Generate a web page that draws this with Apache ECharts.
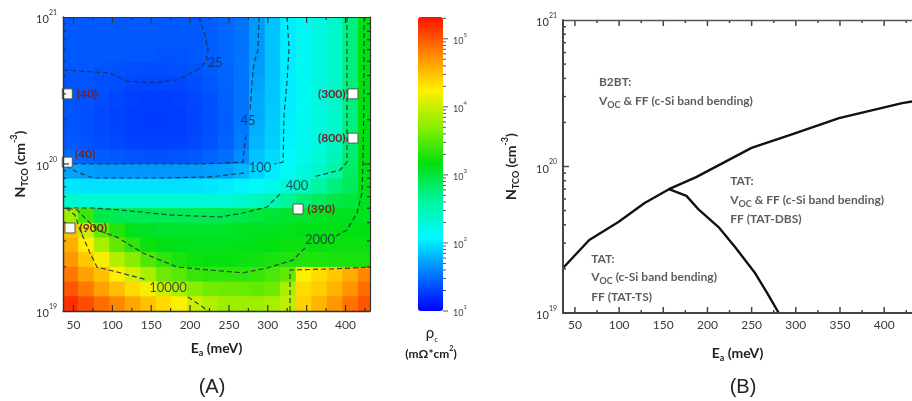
<!DOCTYPE html>
<html><head><meta charset="utf-8">
<script src="https://cdn.jsdelivr.net/npm/echarts@6/dist/echarts.min.js"></script>
<style>html,body{margin:0;padding:0;background:#fff}#c{width:912px;height:401px}</style>
</head><body><div id="c"></div>
<script>
// ---------- Panel A : contact resistivity map ----------
// cell centres: activation energy Ea (meV) and log10 N_TCO (cm^-3), rows listed top -> bottom
const eaCenters = [46,66,86,106,126,146,166,186,206,226,246,266,286,306,326,346,366,386,406,426];
const logNCenters = [20.95,20.85,20.75,20.65,20.55,20.45,20.35,20.25,20.15,20.05,19.95,19.85,19.75,19.65,19.55,19.45,19.35,19.25,19.15,19.05];
// log10 of rho_c (mOhm*cm^2)
const logRhoRows = [
 [1.4,1.4,1.4,1.4,1.4,1.4,1.4,1.4,1.4,1.42,1.46,1.52,1.68,1.85,2.02,2.15,2.25,2.38,2.75,3.15],
 [1.4,1.4,1.4,1.4,1.4,1.4,1.4,1.4,1.4,1.42,1.46,1.52,1.68,1.85,2.02,2.15,2.25,2.38,2.75,3.15],
 [1.4,1.4,1.4,1.4,1.4,1.39,1.38,1.38,1.39,1.42,1.46,1.52,1.68,1.85,2.02,2.15,2.25,2.38,2.75,3.15],
 [1.39,1.39,1.38,1.37,1.36,1.35,1.35,1.36,1.38,1.41,1.45,1.52,1.7,1.85,2.02,2.15,2.25,2.38,2.75,3.15],
 [1.38,1.38,1.36,1.34,1.32,1.31,1.31,1.32,1.35,1.39,1.44,1.52,1.72,1.86,2.02,2.15,2.25,2.38,2.75,3.15],
 [1.38,1.37,1.34,1.31,1.29,1.28,1.28,1.29,1.32,1.37,1.43,1.52,1.74,1.87,2.03,2.15,2.25,2.38,2.75,3.15],
 [1.38,1.36,1.33,1.3,1.28,1.27,1.27,1.28,1.31,1.36,1.42,1.52,1.75,1.88,2.03,2.15,2.25,2.38,2.75,3.15],
 [1.38,1.36,1.33,1.3,1.28,1.27,1.27,1.28,1.31,1.36,1.42,1.54,1.77,1.89,2.04,2.16,2.26,2.4,2.75,3.15],
 [1.4,1.38,1.35,1.32,1.3,1.29,1.29,1.3,1.33,1.38,1.44,1.56,1.8,1.9,2.05,2.17,2.28,2.42,2.77,3.15],
 [1.48,1.45,1.42,1.4,1.38,1.37,1.37,1.38,1.4,1.44,1.5,1.62,1.85,1.95,2.08,2.2,2.32,2.48,2.8,3.15],
 [1.72,1.7,1.68,1.67,1.67,1.67,1.67,1.67,1.68,1.7,1.72,1.8,1.92,2.02,2.12,2.25,2.4,2.6,2.85,3.15],
 [2.0,1.98,1.97,1.97,1.97,1.97,1.97,1.97,1.98,2.0,2.02,2.06,2.12,2.2,2.3,2.45,2.62,2.75,2.88,3.15],
 [2.35,2.32,2.3,2.3,2.3,2.3,2.3,2.3,2.3,2.3,2.32,2.38,2.45,2.55,2.65,2.78,2.88,2.95,3.0,3.1],
 [3.8,3.4,2.95,2.9,2.9,2.9,2.9,2.9,2.9,2.9,2.92,2.95,3.0,3.02,3.05,3.05,3.08,3.1,3.1,3.12],
 [4.5,4.0,3.55,3.3,3.12,3.08,3.05,3.05,3.05,3.05,3.06,3.08,3.1,3.1,3.12,3.14,3.15,3.15,3.15,3.16],
 [4.58,4.25,3.85,3.55,3.35,3.2,3.15,3.13,3.12,3.12,3.12,3.13,3.15,3.18,3.2,3.2,3.2,3.2,3.2,3.2],
 [4.7,4.45,4.2,3.9,3.7,3.48,3.35,3.25,3.2,3.18,3.18,3.2,3.22,3.25,3.28,3.28,3.28,3.26,3.25,3.25],
 [4.85,4.65,4.5,4.25,4.05,3.85,3.6,3.5,3.38,3.35,3.35,3.35,3.38,3.45,3.55,4.22,4.35,4.45,4.6,4.78],
 [5.0,4.85,4.65,4.5,4.35,4.2,4.0,3.85,3.7,3.62,3.6,3.58,3.55,3.6,3.85,4.35,4.42,4.55,4.72,4.9],
 [5.18,5.05,4.9,4.78,4.62,4.48,4.35,4.22,4.0,3.88,3.8,3.8,3.8,3.85,3.95,4.4,4.55,4.7,4.88,5.02]
];
// iso-resistivity contours: segments of [Ea, N_TCO]
const contour25 = [[[36.5,4.36e20],[97,4.16e20],[118.8,3.67e20],[152.3,3.56e20],[183.2,3.73e20],[208.9,4.36e20],[220.5,4.94e20],[223.1,5.97e20],[219.2,7.55e20],[211.5,1e21]]];
const contour45 = [[[288.7,1e21],[287.4,5.97e20],[282.3,4.86e20],[279.7,3.61e20],[277.1,2.26e20]],
                   [[272.0,1.57e20],[269.4,1.245e20],[268.1,1.03e20],[212.8,1e20],[109.8,1e20],[40.4,1e20]]];
const contour100 = [[[324.7,1e21],[327.3,6.15e20],[324.7,3.61e20],[320.9,2.15e20],[319.6,1.03e20],[308,1e20]],
                    [[269.4,8.69e19],[225.6,8.17e19],[161.3,8.03e19],[75.1,8.03e19],[54.5,8.83e19],[40.4,9.68e19]]];
const contour400 = [[[401.9,1e21],[401.9,3.61e20],[401.9,1.03e20],[392.9,9.1e19],[358.2,8.17e19]],
                    [[315.7,6.25e19],[299,5.1e19],[268.1,4.64e19],[238.5,4.36e19],[174.2,4.5e19],[109.8,4.87e19],[75.1,5.02e19],[40.4,5.02e19]]];
const contour2000 = [[[423.8,1e21],[423.8,2.72e20],[422.5,1.064e20],[421.2,6.35e19],[414.8,4.64e19],[401.9,3.56e19],[387.8,3.24e19]],
                     [[347.9,2.69e19],[332.4,2.22e19],[299,1.96e19],[268.1,1.82e19],[225.6,1.9e19],[183.2,1.99e19],[139.4,2.48e19],[106,3.18e19],[80.2,3.56e19],[67.4,4.16e19],[54.5,4.87e19],[40.4,5.02e19]]];
const contour10000 = [[[40.4,5.02e19],[51.9,4.5e19],[58.4,3.56e19],[71.2,2.48e19],[80.2,1.99e19],[109.8,1.82e19],[144.6,1.63e19]],
                      [[197.3,1.245e19],[216.6,1.06e19],[223.1,1e19]],
                      [[328.6,1e19],[328.6,1.9e19],[380,1.93e19],[431.5,1.99e19]]];
const contourLabelText = ['25','45','100','400','2000','10000'];
const contourLabelEa = [232,274.5,290,337.6,367.2,171.6];
const contourLabelN = [4.86e20,1.96e20,9.4e19,7.08e19,3.04e19,1.43e19];
// measured samples (white squares) and their rho_c
const sampleEa = [42,42,45.5,409.6,409.6,338.9];
const sampleN = [3e20,1.03e20,3.67e19,3e20,1.5e20,4.94e19];
const sampleText = ['(40)','(40)','(900)','(300)','(800)','(390)'];

// ---------- Panel B : dominant transport mechanism ----------
const boundaryEa = [36.5,66.2,99.2,128.9,156.4,187.2,249.9,297.2,348.9,420.4,431.5];
const boundaryN = [2.03e19,3.15e19,4.18e19,5.64e19,7.0e19,8.47e19,1.34e20,1.67e20,2.14e20,2.71e20,2.78e20];
const splitEa = [156.4,176.2,190.5,212.5,231.2,253.2,267.5,280.7];
const splitN = [7.0e19,6.3e19,5.05e19,3.86e19,2.82e19,1.9e19,1.37e19,1e19];
const regionText = ['B2BT:','V_OC & FF (c-Si band bending)','TAT:','V_OC & FF (c-Si band bending)','FF (TAT-DBS)','TAT:','V_OC (c-Si band bending)','FF (TAT-TS)'];
const regionEa = [77.2,77.2,225.7,225.7,225.7,68.4,68.4,68.4];
const regionN = [3.78e20,2.8e20,7.96e19,5.9e19,4.39e19,2.34e19,1.76e19,1.28e19];

// ---------- axes ticks ----------
const eaMajorTicks = [50,100,150,200,250,300,350,400];
const eaMinorTicks = [75,125,175,225,275,325,375,425];
const nMajorTicks = [1e20];
const nMinorTicks = [2e19,3e19,4e19,5e19,6e19,7e19,8e19,9e19,2e20,3e20,4e20,5e20,6e20,7e20,8e20,9e20];
const rhoMajorTicks = [10,100,1000,10000,100000];
const rhoMinorTicks = [20,30,40,50,60,70,80,90,200,300,400,500,600,700,800,900,2000,3000,4000,5000,6000,7000,8000,9000,20000,30000,40000,50000,60000,70000,80000,90000,200000];

const EA_MIN = 36.5, EA_MAX = 431.5, N_MIN = 1e19, N_MAX = 1e21;
const RHO_LOG_MIN = 1, RHO_LOG_MAX = 5.32;
const jet = ['#0000ff','#0078ff','#00faff','#00f5a0','#00e010','#88ee00','#fff000','#ff8800','#ff1000'];
const F = 'Lato, "Open Sans", sans-serif';

const heatData = [];
logRhoRows.forEach((row, r) => row.forEach((v, c) => heatData.push([eaCenters[c], Math.pow(10, logNCenters[r]), v])));
const halfEa = (eaCenters[1] - eaCenters[0]) / 2;
const halfLogN = Math.abs(logNCenters[0] - logNCenters[1]) / 2;

function renderCell(params, api) {
  const ea = api.value(0), ln = Math.log10(api.value(1));
  const p1 = api.coord([ea - halfEa, Math.pow(10, ln + halfLogN)]);
  const p2 = api.coord([ea + halfEa, Math.pow(10, ln - halfLogN)]);
  const cs = params.coordSys;
  const r = echarts.graphic.clipRectByRect(
    {x: p1[0], y: p1[1], width: p2[0] - p1[0] + 0.7, height: p2[1] - p1[1] + 0.7},
    {x: cs.x, y: cs.y, width: cs.width, height: cs.height});
  if (!r) return null;
  return {type: 'rect', shape: r, style: {fill: api.visual('color')}};
}

function tickSeries(xi, yi, pts, dx, dy, len, color, w) {
  return {type: 'custom', xAxisIndex: xi, yAxisIndex: yi, silent: true, clip: false, z: 8,
    data: pts, encode: {x: 0, y: 1},
    renderItem: (params, api) => {
      const p = api.coord([api.value(0), api.value(1)]);
      return {type: 'line', shape: {x1: p[0], y1: p[1], x2: p[0] + dx * len, y2: p[1] + dy * len},
              style: {stroke: color || '#333', lineWidth: w || 1.2}};
    }};
}

function powLabel(v) {
  const e = Math.log10(v);
  if (Math.abs(e - Math.round(e)) > 1e-6) return '';
  return '{b|10}{s|' + Math.round(e) + '}';
}
const powRich = {b: {fontSize: 11, fontFamily: F, color: '#333', lineHeight: 16, verticalAlign: 'bottom'},
                 s: {fontSize: 7, fontFamily: F, color: '#333', lineHeight: 9, verticalAlign: 'top'}};
const cbRich = {b: {fontSize: 9, fontFamily: F, color: '#444', lineHeight: 13, verticalAlign: 'bottom'},
                s: {fontSize: 6, fontFamily: F, color: '#444', lineHeight: 7, verticalAlign: 'top'}};
const nameRich = {n: {fontSize: 14, fontFamily: F, fontWeight: 'bold', color: '#222', lineHeight: 20, verticalAlign: 'middle'},
                  sub: {fontSize: 9, fontFamily: F, fontWeight: 'bold', color: '#222', lineHeight: 10, verticalAlign: 'bottom'},
                  sup: {fontSize: 9, fontFamily: F, fontWeight: 'bold', color: '#222', lineHeight: 10, verticalAlign: 'top'}};
const eaName = '{n|E}{sub|a}{n| (meV)}';
const nName = '{n|N}{sub|TCO}{n| (cm}{sup|-3}{n|)}';

function eaLabelFmt(v) { return (Math.abs(v % 50) < 1e-6) ? String(v) : ''; }
const eaLabel = {show: true, formatter: eaLabelFmt, fontFamily: F, fontSize: 12, color: '#3a3a3a', showMinLabel: false, showMaxLabel: false};

const series = [];
// 0: heat map
series.push({type: 'custom', name: 'rho', xAxisIndex: 0, yAxisIndex: 0, data: heatData, encode: {x: 0, y: 1},
  renderItem: renderCell, silent: true, z: 1, clip: true});
// contours
[contour25, contour45, contour100, contour400, contour2000, contour10000].forEach(segs => segs.forEach(seg => {
  series.push({type: 'line', xAxisIndex: 0, yAxisIndex: 0, data: seg, symbol: 'none', silent: true, z: 3,
    lineStyle: {color: '#24303c', width: 1.2, type: [5, 3], opacity: 0.9}});
}));
// contour labels
series.push({type: 'scatter', xAxisIndex: 0, yAxisIndex: 0, symbolSize: 0, silent: true, z: 4,
  data: contourLabelText.map((t, i) => ({name: t, value: [contourLabelEa[i], contourLabelN[i]]})),
  label: {show: true, position: 'inside', formatter: p => p.name, fontFamily: F, fontSize: 13, color: '#1c2840'}});
// samples
const sampleLabelSide = ['right', 'topright', 'right', 'left', 'left', 'right'];
series.push({type: 'scatter', xAxisIndex: 0, yAxisIndex: 0, symbol: 'rect', symbolSize: 10, silent: true, z: 5,
  itemStyle: {color: '#ffffff', borderColor: '#555', borderWidth: 1, opacity: 1},
  data: sampleText.map((t, i) => {
    const side = sampleLabelSide[i];
    const lab = side === 'topright' ? {position: 'right', distance: 2, offset: [0, -8]} :
                {position: side, distance: side === 'left' ? 2 : 4};
    return {name: t, value: [sampleEa[i], sampleN[i]], label: lab};
  }),
  label: {show: true, formatter: p => p.name, fontFamily: F, fontSize: 12, fontWeight: 'bold', color: '#7a1f1f'}});
// ticks panel A
series.push(tickSeries(0, 0, eaMajorTicks.map(v => [v, N_MIN]), 0, -1, 6));
series.push(tickSeries(0, 0, eaMinorTicks.map(v => [v, N_MIN]), 0, -1, 3));
series.push(tickSeries(0, 0, eaMajorTicks.map(v => [v, N_MAX]), 0, 1, 6));
series.push(tickSeries(0, 0, eaMinorTicks.map(v => [v, N_MAX]), 0, 1, 3));
series.push(tickSeries(0, 0, nMajorTicks.map(v => [EA_MIN, v]), 1, 0, 6));
series.push(tickSeries(0, 0, nMinorTicks.map(v => [EA_MIN, v]), 1, 0, 3));
series.push(tickSeries(0, 0, nMajorTicks.map(v => [EA_MAX, v]), -1, 0, 6));
series.push(tickSeries(0, 0, nMinorTicks.map(v => [EA_MAX, v]), -1, 0, 3));
// panel B lines
series.push({type: 'line', xAxisIndex: 2, yAxisIndex: 2, data: boundaryEa.map((x, i) => [x, boundaryN[i]]), symbol: 'none', silent: true, z: 3,
  lineStyle: {color: '#111', width: 2.4}});
series.push({type: 'line', xAxisIndex: 2, yAxisIndex: 2, data: splitEa.map((x, i) => [x, splitN[i]]), symbol: 'none', silent: true, z: 3,
  lineStyle: {color: '#111', width: 2.4}});
series.push({type: 'scatter', xAxisIndex: 2, yAxisIndex: 2, symbolSize: 0, silent: true, z: 4,
  data: regionText.map((t, i) => ({name: t, value: [regionEa[i], regionN[i]]})),
  label: {show: true, position: 'right', distance: 0,
    formatter: p => p.name.indexOf('V_OC') === 0 ? '{t|V}{sub|OC}{t|' + p.name.slice(4) + '}' : '{t|' + p.name + '}',
    rich: {t: {fontFamily: F, fontSize: 12, fontWeight: 'bold', color: '#333', lineHeight: 18, verticalAlign: 'middle'},
           sub: {fontFamily: F, fontSize: 9, fontWeight: 'bold', color: '#333', lineHeight: 10, verticalAlign: 'bottom'}}}});
// ticks panel B
series.push(tickSeries(2, 2, eaMajorTicks.map(v => [v, N_MIN]), 0, -1, 6, '#444', 1.5));
series.push(tickSeries(2, 2, eaMinorTicks.map(v => [v, N_MIN]), 0, -1, 3, '#444', 1.5));
series.push(tickSeries(2, 2, eaMajorTicks.map(v => [v, N_MAX]), 0, 1, 6, '#444', 1.5));
series.push(tickSeries(2, 2, eaMinorTicks.map(v => [v, N_MAX]), 0, 1, 3, '#444', 1.5));
series.push(tickSeries(2, 2, nMajorTicks.map(v => [EA_MIN, v]), 1, 0, 6, '#444', 1.5));
series.push(tickSeries(2, 2, nMinorTicks.map(v => [EA_MIN, v]), 1, 0, 3, '#444', 1.5));
// colour bar ticks
series.push(tickSeries(4, 3, rhoMajorTicks.map(v => [1, v]), 1, 0, 5, '#555', 1));
series.push(tickSeries(4, 3, rhoMinorTicks.map(v => [1, v]), 1, 0, 3, '#555', 1));

const option = {
  animation: false,
  backgroundColor: '#fff',
  grid: [
    {left: 63, top: 17, width: 307, height: 294},
    {left: 563, top: 20, width: 359, height: 293},
    {left: 418, top: 17, width: 25, height: 294}
  ],
  xAxis: [
    {type: 'value', gridIndex: 0, min: EA_MIN, max: EA_MAX, splitNumber: 8, z: 10, splitLine: {show: false},
      axisLine: {lineStyle: {color: '#333', width: 1.4}}, axisTick: {show: false},
      axisLabel: Object.assign({margin: 8}, eaLabel),
      name: eaName, nameLocation: 'middle', nameGap: 27, nameTextStyle: {rich: nameRich}},
    {type: 'value', gridIndex: 0, position: 'top', min: EA_MIN, max: EA_MAX, splitNumber: 8, z: 10, splitLine: {show: false},
      axisLine: {lineStyle: {color: '#333', width: 1.2}}, axisTick: {show: false}, axisLabel: {show: false}},
    {type: 'value', gridIndex: 1, min: EA_MIN, max: EA_MAX, splitNumber: 8, z: 10, splitLine: {show: false},
      axisLine: {lineStyle: {color: '#444', width: 2}}, axisTick: {show: false},
      axisLabel: Object.assign({margin: 6}, eaLabel),
      name: eaName, nameLocation: 'middle', nameGap: 30, nameTextStyle: {rich: nameRich}},
    {type: 'value', gridIndex: 1, position: 'top', min: EA_MIN, max: EA_MAX, splitNumber: 8, z: 10, splitLine: {show: false},
      axisLine: {lineStyle: {color: '#555', width: 1.4}}, axisTick: {show: false}, axisLabel: {show: false}},
    {type: 'value', gridIndex: 2, min: 0, max: 1, show: false}
  ],
  yAxis: [
    {type: 'log', gridIndex: 0, min: N_MIN, max: N_MAX, z: 10, splitLine: {show: false},
      axisLine: {lineStyle: {color: '#333', width: 1.4}}, axisTick: {show: false},
      axisLabel: {formatter: powLabel, rich: powRich, margin: 6},
      name: nName, nameLocation: 'middle', nameRotate: 90, nameGap: 33, nameTextStyle: {rich: nameRich}},
    {type: 'log', gridIndex: 0, position: 'right', min: N_MIN, max: N_MAX, z: 10, splitLine: {show: false},
      axisLine: {lineStyle: {color: '#333', width: 1.2}}, axisTick: {show: false}, axisLabel: {show: false}},
    {type: 'log', gridIndex: 1, min: N_MIN, max: N_MAX, z: 10, splitLine: {show: false},
      axisLine: {lineStyle: {color: '#444', width: 2}}, axisTick: {show: false},
      axisLabel: {formatter: powLabel, rich: powRich, margin: 6},
      name: nName, nameLocation: 'middle', nameRotate: 90, nameGap: 42, nameTextStyle: {rich: nameRich}},
    {type: 'log', gridIndex: 2, position: 'right', min: Math.pow(10, RHO_LOG_MIN), max: Math.pow(10, RHO_LOG_MAX), z: 10,
      splitLine: {show: false}, axisLine: {show: false}, axisTick: {show: false},
      axisLabel: {formatter: powLabel, rich: cbRich, margin: 10, showMaxLabel: false}}
  ],
  visualMap: [{
    type: 'continuous', seriesIndex: 0, dimension: 2, min: RHO_LOG_MIN, max: RHO_LOG_MAX,
    calculable: false, hoverLink: false, orient: 'vertical', left: 418, top: 17,
    itemWidth: 25, itemHeight: 294, padding: 0, text: null, inRange: {color: jet}
  }],
  graphic: [
    {type: 'text', x: 432, y: 333, silent: true,
      style: {text: '{r|ρ}{c|c}', align: 'center', verticalAlign: 'middle', textAlign: 'center', textVerticalAlign: 'middle',
        rich: {r: {fontFamily: F, fontSize: 15, fill: '#222', lineHeight: 20, verticalAlign: 'middle'},
               c: {fontFamily: F, fontSize: 8, fill: '#222', lineHeight: 9, verticalAlign: 'bottom'}}}},
    {type: 'text', x: 431, y: 354, silent: true,
      style: {text: '{t|(mΩ*cm}{s|2}{t|)}', align: 'center', verticalAlign: 'middle', textAlign: 'center', textVerticalAlign: 'middle',
        rich: {t: {fontFamily: F, fontSize: 12, fontWeight: 'bold', fill: '#222', lineHeight: 18, verticalAlign: 'middle'},
               s: {fontFamily: F, fontSize: 7, fontWeight: 'bold', fill: '#222', lineHeight: 9, verticalAlign: 'top'}}}},
    {type: 'text', x: 212, y: 387, silent: true,
      style: {text: '(A)', font: '20px "Liberation Sans", Arial, sans-serif', fill: '#222', align: 'center', verticalAlign: 'middle', textAlign: 'center', textVerticalAlign: 'middle'}},
    {type: 'text', x: 743, y: 387, silent: true,
      style: {text: '(B)', font: '20px "Liberation Sans", Arial, sans-serif', fill: '#222', align: 'center', verticalAlign: 'middle', textAlign: 'center', textVerticalAlign: 'middle'}}
  ],
  series: series
};
const chart = echarts.init(document.getElementById('c'), null, {renderer: 'canvas'});
chart.setOption(option);
</script></body></html>
